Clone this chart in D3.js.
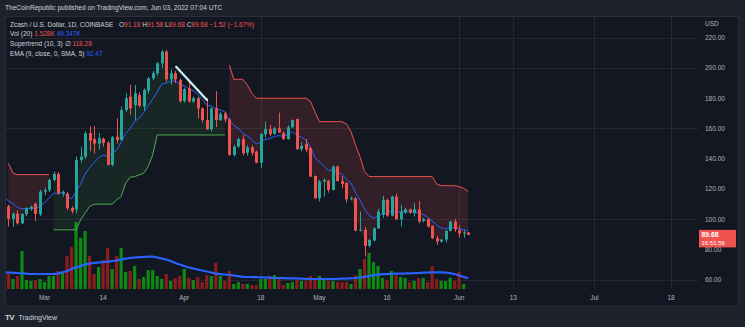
<!DOCTYPE html>
<html>
<head>
<meta charset="utf-8">
<script src="https://cdn.jsdelivr.net/npm/d3@7/dist/d3.min.js"></script>
<style>
  html, body { margin: 0; padding: 0; background: #1e222d; }
  svg { display: block; font-family: "Liberation Sans", Arial, sans-serif; }
</style>
</head>
<body>
<svg id="chart" width="745" height="327"></svg>
<script>
// ZEC/USD daily candles, 2022-02-20 .. 2022-06-03 (COINBASE)
const firstDay = "2022-02-20";

const opens = [
  113.0, 108.5, 100.2, 103.8, 97.3, 103.4, 107.0, 110.2, 103.4,
  118.3, 119.3, 126.0, 130.0, 117.2, 117.0, 107.5, 106.5, 139.2, 141.4,
  157.0, 153.0, 150.0, 153.2, 150.7, 136.0, 154.6, 152.4, 172.2, 181.0,
  175.5, 182.0, 174.5, 185.0, 193.2, 196.5, 203.0, 210.8, 192.5, 196.5,
  192.0, 178.2, 186.5, 177.8, 180.0, 173.3, 165.6, 159.5, 173.3, 165.6,
  170.0, 166.0, 142.5, 148.0, 152.9, 144.0, 147.6, 144.7, 137.4, 156.2,
  159.5, 156.4, 160.0, 157.0, 153.0, 160.8, 166.3, 146.3, 149.8, 147.0,
  128.6, 113.9, 124.9, 125.5, 119.4, 134.8, 125.3, 124.0, 113.2, 113.8,
  92.5, 93.0, 82.5, 86.0, 94.0, 103.0, 112.8, 102.4, 115.0, 100.0,
  104.4, 106.6, 104.0, 106.6, 99.0, 100.0, 95.6, 87.5, 85.3, 86.6,
  92.3, 98.45, 92.8, 90.5, 91.18
];
const highs = [
  114.5, 109.5, 104.5, 106.0, 104.0, 108.0, 109.0, 111.0, 119.5,
  121.0, 127.0, 131.5, 131.2, 119.0, 118.0, 108.5, 141.5, 148.0, 158.0,
  161.5, 161.5, 157.0, 154.0, 151.5, 155.0, 166.7, 174.5, 183.3, 188.8,
  188.8, 184.0, 186.5, 194.0, 198.0, 204.0, 212.0, 212.0, 199.0, 198.0,
  193.0, 187.0, 191.0, 181.0, 181.0, 174.0, 180.0, 174.0, 184.6, 171.0,
  171.0, 167.0, 149.0, 154.0, 155.7, 149.0, 149.0, 145.5, 157.0, 164.5,
  162.3, 161.0, 170.5, 158.0, 162.0, 166.0, 166.5, 151.0, 153.0, 148.0,
  129.0, 126.0, 127.0, 126.0, 135.5, 135.5, 128.6, 124.5, 115.0, 114.5,
  105.0, 95.0, 87.0, 94.5, 107.0, 115.6, 113.5, 115.5, 117.0, 109.5,
  107.5, 107.0, 110.6, 112.0, 101.0, 100.5, 96.0, 89.0, 87.0, 93.0,
  99.0, 100.0, 96.0, 92.5, 91.58
];
const lows = [
  108.0, 95.2, 95.0, 96.5, 96.8, 102.0, 105.5, 98.9, 102.0,
  116.0, 118.0, 125.0, 116.0, 115.0, 106.0, 103.8, 104.0, 137.5, 140.0,
  145.0, 143.5, 146.0, 148.0, 135.6, 135.0, 150.0, 152.0, 171.0, 169.0,
  165.6, 174.0, 172.0, 183.0, 192.0, 195.0, 200.0, 191.0, 189.0, 190.0,
  177.0, 177.0, 177.0, 177.0, 166.7, 164.0, 159.0, 158.0, 161.0, 165.0,
  164.0, 142.0, 141.5, 147.0, 142.0, 142.0, 142.0, 137.0, 133.7, 154.0,
  155.0, 156.0, 157.0, 152.5, 152.5, 160.0, 146.0, 145.0, 144.7, 128.0,
  113.5, 111.7, 115.0, 117.6, 119.0, 125.0, 120.5, 111.0, 112.5, 92.0,
  92.0, 75.3, 81.5, 85.5, 93.5, 101.0, 101.5, 102.0, 99.7, 95.2,
  103.5, 103.5, 101.8, 97.4, 98.0, 94.5, 87.0, 83.0, 84.5, 84.6,
  92.0, 91.7, 88.0, 87.8, 89.68
];
const closes = [
  109.0, 100.3, 103.7, 97.4, 103.5, 107.2, 108.4, 103.5, 118.3,
  119.3, 126.0, 130.0, 117.2, 118.2, 107.3, 105.4, 139.2, 141.4, 156.8,
  152.0, 150.0, 153.5, 150.4, 135.9, 154.2, 152.4, 172.2, 180.0, 173.3,
  183.3, 175.0, 185.5, 193.2, 196.5, 203.0, 210.8, 192.5, 196.5, 192.5,
  178.2, 186.0, 177.8, 180.0, 173.3, 165.6, 159.5, 173.3, 165.6, 169.6,
  166.0, 142.5, 148.0, 153.0, 143.6, 147.6, 144.0, 137.4, 156.4, 159.5,
  156.2, 160.1, 157.3, 153.0, 160.8, 165.6, 146.3, 148.5, 146.0, 128.2,
  113.9, 124.9, 126.0, 119.4, 134.8, 125.3, 123.3, 113.2, 114.0, 92.5,
  93.0, 82.4, 86.3, 94.0, 105.0, 112.8, 102.4, 115.0, 100.0, 105.0,
  106.6, 104.4, 106.6, 98.5, 100.0, 95.2, 87.5, 85.3, 86.6, 92.3,
  98.45, 93.3, 90.5, 91.20, 89.68
];
// volume, thousands of ZEC
const volumes = [
  78, 69, 46, 60, 175, 41, 37, 41, 46,
  32, 60, 60, 83, 78, 152, 193, 308, 235, 267,
  152, 69, 101, 133, 189, 92, 152, 189, 78, 83,
  106, 46, 55, 87, 87, 60, 46, 69, 37, 51,
  60, 92, 51, 41, 55, 32, 64, 60, 120, 60,
  37, 83, 23, 32, 23, 23, 18, 18, 46, 46,
  60, 64, 51, 18, 28, 32, 41, 37, 37, 60,
  41, 60, 41, 37, 37, 32, 32, 32, 23, 64,
  92, 138, 166, 124, 106, 51, 41, 83, 64, 55,
  51, 32, 37, 51, 51, 32, 106, 46, 37, 37,
  51, 37, 78, 23, 1.528
];
// 20-bar volume moving average, thousands
const volumeMA = [
  76.8, 75.9, 74.5, 73.6, 72.2, 70.4, 69.0, 69.0, 69.0,
  69.0, 69.0, 69.0, 71.3, 76.8, 82.8, 92.0, 99.8, 105.8, 112.7,
  116.4, 119.6, 121.9, 124.2, 125.6, 128.8, 131.1, 135.7, 139.4, 142.6,
  144.9, 146.3, 147.2, 148.6, 148.6, 144.9, 140.3, 135.7, 128.8, 119.6,
  112.7, 105.8, 98.9, 94.3, 89.7, 85.1, 80.5, 75.9, 71.3, 69.0,
  66.7, 64.4, 62.1, 58.9, 56.1, 55.2, 55.2, 54.3, 53.8, 52.9,
  52.0, 50.6, 50.6, 49.7, 49.2, 49.2, 48.3, 47.4, 46.9, 46.0,
  46.0, 46.0, 46.0, 46.0, 46.0, 46.9, 47.4, 48.3, 49.2, 50.6,
  52.9, 56.1, 59.8, 63.0, 65.8, 68.1, 69.0, 69.9, 70.4, 70.8,
  71.3, 71.8, 72.7, 73.6, 75.0, 75.9, 76.8, 76.8, 76.4, 75.0,
  72.7, 69.0, 62.1, 55.2, 49.347
];
// Supertrend (10, 3) level per bar; null before it is defined
const supertrend = [
  null, 137.0, 130.5, 129.5, 129.5, 129.5, 129.5, 129.5, 129.5,
  129.5, 129.5, 93.0, 93.0, 93.0, 93.0, 93.0, 93.0, 99.6, 104.0,
  108.4, 110.0, 110.0, 110.0, 110.0, 110.0, 112.8, 115.0, 123.8, 127.8,
  128.2, 129.3, 130.4, 134.8, 142.5, 155.7, 155.7, 155.7, 155.7, 155.7,
  155.7, 155.7, 155.7, 155.7, 155.7, 155.7, 155.7, 155.7, 155.7, 155.7,
  155.7, 202.0, 192.5, 192.5, 192.5, 188.8, 183.3, 180.0, 180.0, 180.0,
  180.0, 180.0, 180.0, 180.0, 180.0, 180.0, 180.0, 180.0, 180.0, 178.0,
  171.0, 164.5, 164.5, 164.5, 164.5, 164.5, 164.5, 163.0, 158.0, 149.0,
  141.4, 131.5, 128.2, 128.2, 128.2, 128.2, 128.2, 128.2, 128.2, 128.2,
  128.2, 128.2, 128.2, 128.2, 128.2, 128.2, 128.2, 123.3, 122.2, 122.2,
  122.2, 122.2, 121.6, 120.5, 118.28
];
// EMA(9) of close, value carried in on the first bar
const emaPeriod = 9;
const emaStart = 115.0;

// trend line drawn on the chart: [date, price]
const trendLine = [["2022-03-30T05:00Z", 200.8], ["2022-04-06T01:00Z", 178.9]];

const priceTicks = [60, 80, 100, 120, 140, 160, 180, 200, 220];
const priceGrid = [60, 100, 160, 200, 220];
const timeTicks = ["2022-03-01", "2022-03-14", "2022-04-01", "2022-04-18", "2022-05-01",
                   "2022-05-16", "2022-06-01", "2022-06-13", "2022-07-01", "2022-07-18"];
const timeTickLabels = ["Mar", "14", "Apr", "18", "May", "16", "Jun", "13", "Jul", "18"];
const timeGrid = ["2022-04-18", "2022-06-01", "2022-06-13", "2022-07-01", "2022-07-18"];

// ---------------------------------------------------------------------------
const W = 745, H = 327;
const panel = { left: 5, top: 16.5, right: 739, bottom: 306 };
const plot = { left: 5, top: 16.5, right: 698, bottom: 289 };

const C = {
  outer: "#1e222d", bg: "#131722", grid: "#242833", border: "#2a2e39",
  text: "#d1d4dc", axis: "#b2b5be", up: "#26a69a", down: "#ef5350",
  volUp: "#0e8a12", volDown: "#8c1d1f", blue: "#2962ff",
  stUp: "#4caf50", stDown: "#ef5350"
};

const parse = s => new Date(s.length === 10 ? s + "T00:00:00Z" : s);
const day0 = parse(firstDay);

const bars = closes.map((c, i) => {
  const o = opens[i];
  return {
    date: d3.utcDay.offset(day0, i),
    o, h: highs[i], l: lows[i], c,
    v: volumes[i], vma: volumeMA[i],
    st: supertrend[i],
    mid: (o + c) / 2,
    up: c >= o
  };
});

// EMA of closes
{
  const k = 2 / (emaPeriod + 1);
  let e = emaStart;
  bars.forEach((b, i) => { if (i > 0) e = e + k * (b.c - e); b.ema = e; });
}

const x = d3.scaleUtc()
  .domain([parse("2022-03-01"), parse("2022-07-18")])
  .range([44.5, 671]);
const y = d3.scaleLinear().domain([60, 220]).range([279.8, 37.7]);
const yVol = d3.scaleLinear().domain([0, 460]).range([plot.bottom, plot.bottom - 100]);

const svg = d3.select("#chart");
svg.append("rect").attr("width", W).attr("height", H).attr("fill", C.outer);
svg.append("rect")
  .attr("x", panel.left).attr("y", panel.top)
  .attr("width", panel.right - panel.left).attr("height", panel.bottom - panel.top)
  .attr("fill", C.bg);

svg.append("defs").append("clipPath").attr("id", "plotClip")
  .append("rect")
  .attr("x", plot.left).attr("y", plot.top)
  .attr("width", plot.right - plot.left).attr("height", plot.bottom - plot.top);

// grid
const grid = svg.append("g").attr("clip-path", "url(#plotClip)");
grid.selectAll("line.h").data(priceGrid).join("line")
  .attr("x1", plot.left).attr("x2", plot.right)
  .attr("y1", d => Math.round(y(d)) + 0.5).attr("y2", d => Math.round(y(d)) + 0.5)
  .attr("stroke", C.grid).attr("stroke-width", 1);
grid.selectAll("line.v").data(timeGrid.map(parse)).join("line")
  .attr("x1", d => Math.round(x(d)) + 0.5).attr("x2", d => Math.round(x(d)) + 0.5)
  .attr("y1", plot.top).attr("y2", plot.bottom)
  .attr("stroke", C.grid).attr("stroke-width", 1);

const g = svg.append("g").attr("clip-path", "url(#plotClip)");

// volume bars
const bw = 3.2;
g.append("g").selectAll("rect").data(bars).join("rect")
  .attr("x", d => x(d.date) - bw / 2)
  .attr("y", d => yVol(d.v))
  .attr("width", bw)
  .attr("height", d => Math.max(0.6, yVol(0) - yVol(d.v)))
  .attr("fill", d => d.up ? C.volUp : C.volDown);

// volume MA
g.append("path").datum(bars)
  .attr("d", d3.line().x(d => x(d.date)).y(d => yVol(d.vma)).curve(d3.curveMonotoneX))
  .attr("fill", "none").attr("stroke", C.blue).attr("stroke-width", 2.2);

// supertrend runs (same direction, consecutive bars)
const runs = [];
bars.forEach(b => {
  if (b.st == null) return;
  const dir = b.st > b.c ? "down" : "up";
  const last = runs[runs.length - 1];
  if (last && last.dir === dir) last.pts.push(b);
  else runs.push({ dir, pts: [b] });
});
const area = d3.area().x(d => x(d.date)).y0(d => y(d.st)).y1(d => y(d.mid));
const stLine = d3.line().x(d => x(d.date)).y(d => y(d.st));
g.append("g").selectAll("path").data(runs).join("path")
  .attr("d", r => area(r.pts))
  .attr("fill", r => r.dir === "down" ? "rgba(239,83,80,0.14)" : "rgba(76,175,80,0.10)");
g.append("g").selectAll("path").data(runs).join("path")
  .attr("d", r => stLine(r.pts))
  .attr("fill", "none")
  .attr("stroke", r => r.dir === "down" ? C.stDown : C.stUp)
  .attr("stroke-width", 1);

// EMA
g.append("path").datum(bars)
  .attr("d", d3.line().x(d => x(d.date)).y(d => y(d.ema)))
  .attr("fill", "none").attr("stroke", C.blue).attr("stroke-width", 1);

// candles
const cw = 3;
const candles = g.append("g").selectAll("g").data(bars).join("g");
candles.append("line")
  .attr("x1", d => Math.round(x(d.date)) + 0.5).attr("x2", d => Math.round(x(d.date)) + 0.5)
  .attr("y1", d => y(d.h)).attr("y2", d => y(d.l))
  .attr("stroke", d => d.up ? C.up : C.down).attr("stroke-width", 1);
candles.append("rect")
  .attr("x", d => Math.round(x(d.date)) + 0.5 - cw / 2)
  .attr("y", d => y(Math.max(d.o, d.c)))
  .attr("width", cw)
  .attr("height", d => Math.max(1, Math.abs(y(d.o) - y(d.c))))
  .attr("fill", d => d.up ? C.up : C.down);

// drawn trend line
g.append("line")
  .attr("x1", x(parse(trendLine[0][0]))).attr("y1", y(trendLine[0][1]))
  .attr("x2", x(parse(trendLine[1][0]))).attr("y2", y(trendLine[1][1]))
  .attr("stroke", "#c9f1f5").attr("stroke-width", 2.2).attr("stroke-linecap", "round");

// price axis
const yAxis = svg.append("g");
yAxis.selectAll("text").data(priceTicks).join("text")
  .attr("x", 705).attr("y", d => y(d) + 2.4)
  .attr("fill", C.axis).attr("font-size", 6.5)
  .text(d => d3.format(".2f")(d));
svg.append("text").attr("x", 705).attr("y", 25.5)
  .attr("fill", C.axis).attr("font-size", 6.5).text("USD");

// last price label
const last = bars[bars.length - 1];
const ly = y(last.c);
svg.append("rect").attr("x", 699).attr("y", ly - 5).attr("width", 37).attr("height", 17.5)
  .attr("fill", C.down);
svg.append("text").attr("x", 701.5).attr("y", ly + 2)
  .attr("fill", "#ffffff").attr("font-size", 6.8).attr("font-weight", "bold")
  .text(d3.format(".2f")(last.c));
svg.append("text").attr("x", 701.5).attr("y", ly + 10.2)
  .attr("fill", "#ffffff").attr("font-size", 6).text("16:51:56");

// time axis
svg.append("g").selectAll("text").data(timeTicks).join("text")
  .attr("x", d => x(parse(d))).attr("y", 299.5)
  .attr("text-anchor", "middle").attr("fill", C.axis).attr("font-size", 6.5)
  .text((d, i) => timeTickLabels[i]);

// panel frame
svg.append("rect")
  .attr("x", panel.left + 0.5).attr("y", panel.top)
  .attr("width", panel.right - panel.left - 1).attr("height", panel.bottom - panel.top)
  .attr("fill", "none").attr("stroke", C.border).attr("stroke-width", 1);

// header
svg.append("text").attr("x", 5).attr("y", 9.5)
  .attr("fill", C.text).attr("font-size", 6.6)
  .text("TheCoinRepublic published on TradingView.com, Jun 03, 2022 07:04 UTC");

// legend
const fmt = d3.format(".2f");
const prevClose = bars[bars.length - 2].c;
const chg = last.c - prevClose;
const chgPct = chg / prevClose * 100;
const minus = v => (v < 0 ? "\u2212" : "+") + fmt(Math.abs(v));

const l1 = svg.append("text").attr("x", 10).attr("y", 26.5).attr("font-size", 6.5).attr("fill", C.text);
l1.append("tspan").text("Zcash / U.S. Dollar, 1D, COINBASE");
const ohlc = svg.append("text").attr("x", 119).attr("y", 26.5).attr("font-size", 6.5);
[["O", last.o], ["H", last.h], ["L", last.l], ["C", last.c]].forEach(([k, v], i) => {
  ohlc.append("tspan").attr("fill", C.text).text((i ? " " : "") + k);
  ohlc.append("tspan").attr("fill", C.down).text(fmt(v));
});
ohlc.append("tspan").attr("fill", C.down)
  .text(" " + minus(chg) + " (" + minus(chgPct) + "%)");

const l2 = svg.append("text").attr("x", 10).attr("y", 36).attr("font-size", 6.5);
l2.append("tspan").attr("fill", C.text).text("Vol (20) ");
l2.append("tspan").attr("fill", C.down).text(d3.format(".3f")(last.v) + "K ");
l2.append("tspan").attr("fill", C.blue).text(d3.format(".3f")(last.vma) + "K");

const l3 = svg.append("text").attr("x", 10).attr("y", 45.7).attr("font-size", 6.5);
l3.append("tspan").attr("fill", C.text).text("Supertrend (10, 3) \u2205 ");
l3.append("tspan").attr("fill", C.down).text(fmt(last.st));

const l4 = svg.append("text").attr("x", 10).attr("y", 55.5).attr("font-size", 6.5);
l4.append("tspan").attr("fill", C.text).text("EMA (9, close, 0, SMA, 5) ");
l4.append("tspan").attr("fill", C.blue).text(fmt(last.ema));

// footer brand
svg.append("text").attr("x", 5).attr("y", 319.5)
  .attr("fill", C.text).attr("font-size", 8).attr("font-weight", "bold")
  .attr("letter-spacing", -0.6).text("TV");
svg.append("text").attr("x", 18.5).attr("y", 319.5)
  .attr("fill", C.text).attr("font-size", 7).text("TradingView");
</script>
</body>
</html>
